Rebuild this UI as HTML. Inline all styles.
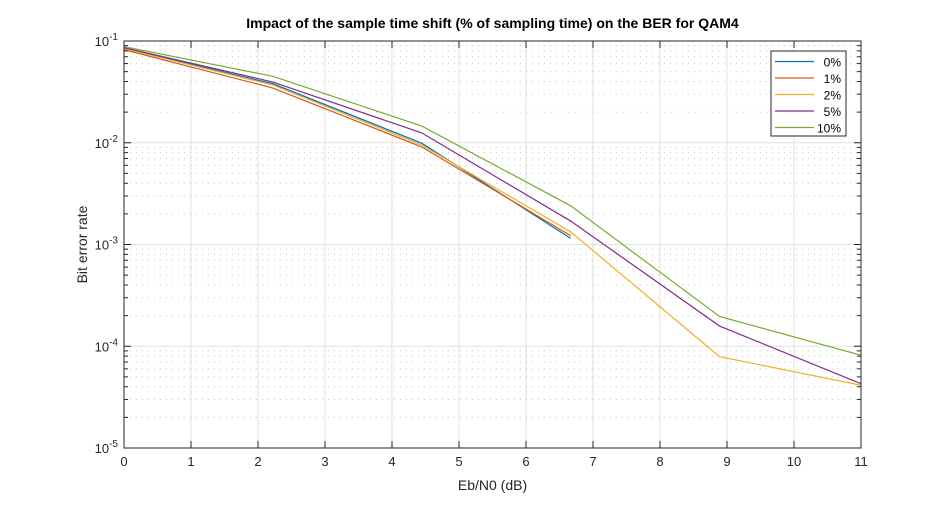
<!DOCTYPE html>
<html><head><meta charset="utf-8"><style>
body{margin:0;background:#fff}
svg text{font-family:"Liberation Sans",Arial,sans-serif}
</style></head><body>
<svg id="chart" width="950" height="504" xmlns="http://www.w3.org/2000/svg">
<rect width="950" height="504" fill="#fff"/>
<g id="grid"></g><g id="series"></g><g id="axes"></g><g id="legend"></g>
</svg>
<script>
const xVals=[0,2.222,4.444,6.667,8.889,11.111];
const ser0=[0.085,0.038,0.0099,0.00115];
const ser1=[0.082,0.0345,0.0091,0.00122];
const ser2=[0.084,0.037,0.0095,0.00133,7.9e-5,4.0e-5];
const ser5=[0.086,0.0395,0.0125,0.0017,1.58e-4,4.0e-5];
const ser10=[0.088,0.045,0.0146,0.0024,1.96e-4,7.8e-5];
const seriesNames=["0%","1%","2%","5%","10%"];
const xTicks=[0,1,2,3,4,5,6,7,8,9,10,11];
const yExps=[-5,-4,-3,-2,-1];

const L=124,R=861,T=41,B=448;
const NS="http://www.w3.org/2000/svg";
function X(v){return L+(v-0)/(11-0)*(R-L);}
function Y(v){return T+(-1-Math.log10(v))/4*(B-T);}
function mk(tag,attrs,parent){const e=document.createElementNS(NS,tag);for(const k in attrs)e.setAttribute(k,attrs[k]);parent.appendChild(e);return e;}
const grid=document.getElementById('grid'),axes=document.getElementById('axes'),sg=document.getElementById('series'),lg=document.getElementById('legend');
const svg=document.getElementById('chart');
const defs=mk('defs',{},svg);const cp=mk('clipPath',{id:'pc'},defs);mk('rect',{x:L,y:T,width:R-L,height:B-T},cp);
sg.setAttribute('clip-path','url(#pc)');
for(let e=-5;e<-1;e++){for(let m=2;m<=9;m++){const v=m*Math.pow(10,e);const y=Y(v);
const l=mk('line',{x1:L,x2:R,y1:y,y2:y,stroke:'#c8c8c8','stroke-width':1,'stroke-dasharray':'1,5'},grid);

mk('line',{x1:L,x2:L+4,y1:y,y2:y,stroke:'#262626'},axes);mk('line',{x1:R,x2:R-4,y1:y,y2:y,stroke:'#262626'},axes);}}
yExps.forEach(e=>{const y=Y(Math.pow(10,e));
const l=mk('line',{x1:L,x2:R,y1:y,y2:y,stroke:'#e0e0e0'},grid);

mk('line',{x1:L,x2:L+7,y1:y,y2:y,stroke:'#262626'},axes);mk('line',{x1:R,x2:R-7,y1:y,y2:y,stroke:'#262626'},axes);
const t=mk('text',{x:L-6,y:y+5,'text-anchor':'end','font-size':13,fill:'#262626'},axes);

t.innerHTML='10<tspan dy="-6" font-size="10">'+e+'</tspan>';});
xTicks.forEach(v=>{const x=X(v);
const l=mk('line',{x1:x,x2:x,y1:T,y2:B,stroke:'#e0e0e0'},grid);

mk('line',{x1:x,x2:x,y1:B,y2:B-7,stroke:'#262626'},axes);mk('line',{x1:x,x2:x,y1:T,y2:T+7,stroke:'#262626'},axes);
const t=mk('text',{x:x,y:B+18,'text-anchor':'middle','font-size':13,fill:'#262626'},axes);
t.textContent=v;});
const box=mk('rect',{x:L,y:T,width:R-L,height:B-T,fill:'none',stroke:'#262626'},axes);

const colors=['#0072BD','#D95319','#EDB120','#7E2F8E','#77AC30'];
const data=[ser0,ser1,ser2,ser5,ser10];
data.forEach((s,i)=>{const p=s.map((v,j)=>X(xVals[j])+','+Y(v)).join(' ');
const pl=mk('polyline',{points:p,fill:'none',stroke:colors[i],'stroke-width':1.2},sg);
});
const title=mk('text',{x:(L+R)/2,y:28,'text-anchor':'middle','font-size':14,'font-weight':'bold',fill:'#000'},axes);

title.textContent='Impact of the sample time shift (% of sampling time) on the BER for QAM4';
const xt=mk('text',{x:(L+R)/2,y:490,'text-anchor':'middle','font-size':14,fill:'#262626'},axes);
xt.textContent='Eb/N0 (dB)';
const yt=mk('text',{x:0,y:0,'text-anchor':'middle','font-size':14,fill:'#262626',transform:'translate(87,'+(T+B)/2+') rotate(-90)'},axes);
yt.textContent='Bit error rate';
const lb=mk('rect',{x:771,y:51,width:75,height:85,fill:'#fff',stroke:'#262626'},lg);

seriesNames.forEach((n,i)=>{const y=61.5+i*16.5;
const ln=mk('line',{x1:775,x2:814,y1:y,y2:y,stroke:colors[i],'stroke-width':1.2},lg);

const t=mk('text',{x:841,y:y+5,'text-anchor':'end','font-size':12,fill:'#000'},lg);
t.textContent=n;});
</script>
</body></html>
